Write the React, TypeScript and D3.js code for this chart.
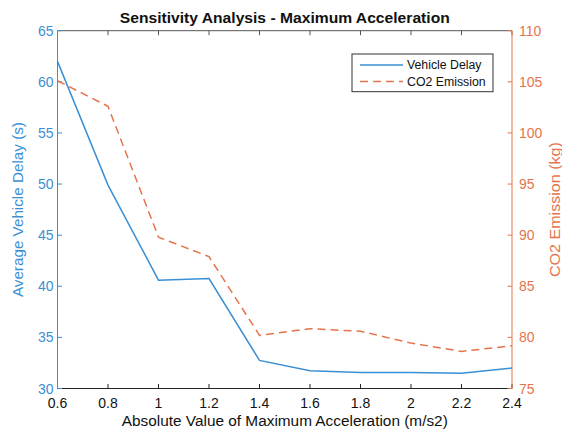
import React from "react";
import * as d3 from "d3";

const accel = [0.6, 0.8, 1.0, 1.2, 1.4, 1.6, 1.8, 2.0, 2.2, 2.4];
const delay = [62.0, 49.9, 40.6, 40.75, 32.75, 31.73, 31.57, 31.57, 31.5, 32.0];
const co2 = [105.1, 102.6, 89.8, 87.9, 80.2, 80.85, 80.6, 79.44, 78.63, 79.18];
const xTicks = [0.6, 0.8, 1, 1.2, 1.4, 1.6, 1.8, 2, 2.2, 2.4];
const leftTicks = [30, 35, 40, 45, 50, 55, 60, 65];
const rightTicks = [75, 80, 85, 90, 95, 100, 105, 110];

const W = 562, H = 431;
const L = 57.5, R = 512, T = 30.7, B = 388.5;
const BLUE = "#3b8fd3";
const ORANGE = "#e5744c";
const FONT = "'Liberation Sans', Arial, Helvetica, sans-serif";

export default function App() {
  const x = d3.scaleLinear().domain([0.6, 2.4]).range([L, R]);
  const yL = d3.scaleLinear().domain([30, 65]).range([B, T]);
  const yR = d3.scaleLinear().domain([75, 110]).range([B, T]);
  const lineL = d3.line<number>().x((_, i) => x(accel[i])).y((d) => yL(d));
  const lineR = d3.line<number>().x((_, i) => x(accel[i])).y((d) => yR(d));
  const tk = 4.5;
  const cx = (L + R) / 2;
  return (
    <svg width={W} height={H} style={{ position: "absolute", left: 0, top: 0, background: "#fff" }} fontFamily={FONT}>
      <rect x={0} y={0} width={W} height={H} fill="#fff" />
      {/* top border */}
      <line x1={L} x2={R} y1={T} y2={T} stroke="#555" strokeWidth={1} />
      {/* x ticks */}
      {xTicks.map((t) => (
        <g key={"xt" + t}>
          <line x1={x(t)} x2={x(t)} y1={B} y2={B - tk} stroke="#222" />
          <line x1={x(t)} x2={x(t)} y1={T} y2={T + tk} stroke="#555" />
          <text x={x(t)} y={408} textAnchor="middle" fontSize={14} fill="#111">{String(t)}</text>
        </g>
      ))}
      <line x1={L} x2={R} y1={B} y2={B} stroke="#222" strokeWidth={1} />
      {/* left axis */}
      <line x1={L} x2={L} y1={T} y2={B} stroke={BLUE} strokeWidth={1} />
      {leftTicks.map((t) => (
        <g key={"lt" + t}>
          <line x1={L} x2={L + tk} y1={yL(t)} y2={yL(t)} stroke={BLUE} />
          <text x={L - 4} y={yL(t) + 5} textAnchor="end" fontSize={14} fill={BLUE}>{t}</text>
        </g>
      ))}
      {/* right axis */}
      <line x1={R} x2={R} y1={T} y2={B} stroke={ORANGE} strokeWidth={1} />
      {rightTicks.map((t) => (
        <g key={"rt" + t}>
          <line x1={R} x2={R - tk} y1={yR(t)} y2={yR(t)} stroke={ORANGE} />
          <text x={R + 7} y={yR(t) + 5} textAnchor="start" fontSize={14} fill={ORANGE}>{t}</text>
        </g>
      ))}
      {/* lines */}
      <path d={lineL(delay) || ""} fill="none" stroke={BLUE} strokeWidth={1.5} />
      <path d={lineR(co2) || ""} fill="none" stroke={ORANGE} strokeWidth={1.5} strokeDasharray="8,5" />
      {/* title */}
      <text x={cx} y={22.7} textAnchor="middle" fontSize={15.5} fontWeight="bold" fill="#111" textLength={330} lengthAdjust="spacingAndGlyphs">
        Sensitivity Analysis - Maximum Acceleration
      </text>
      {/* x label */}
      <text x={cx} y={425.5} textAnchor="middle" fontSize={15.5} fill="#111" textLength={326} lengthAdjust="spacingAndGlyphs">
        Absolute Value of Maximum Acceleration (m/s2)
      </text>
      {/* y labels */}
      <text transform={`translate(23,${(T + B) / 2}) rotate(-90)`} textAnchor="middle" fontSize={15.5} fill={BLUE} textLength={175} lengthAdjust="spacingAndGlyphs">
        Average Vehicle Delay (s)
      </text>
      <text transform={`translate(560,${(T + B) / 2}) rotate(-90)`} textAnchor="middle" fontSize={15.5} fill={ORANGE} textLength={135} lengthAdjust="spacingAndGlyphs">
        CO2 Emission (kg)
      </text>
      {/* legend */}
      <rect x={352} y={54} width={141} height={37.7} fill="#fff" stroke="#333" strokeWidth={1} />
      <line x1={360} x2={403} y1={65} y2={65} stroke={BLUE} strokeWidth={1.5} />
      <text x={407} y={69.3} fontSize={12.3} fill="#111">Vehicle Delay</text>
      <line x1={360} x2={403} y1={81.5} y2={81.5} stroke={ORANGE} strokeWidth={1.5} strokeDasharray="8,5" />
      <text x={407} y={85.8} fontSize={12.3} fill="#111">CO2 Emission</text>
    </svg>
  );
}
